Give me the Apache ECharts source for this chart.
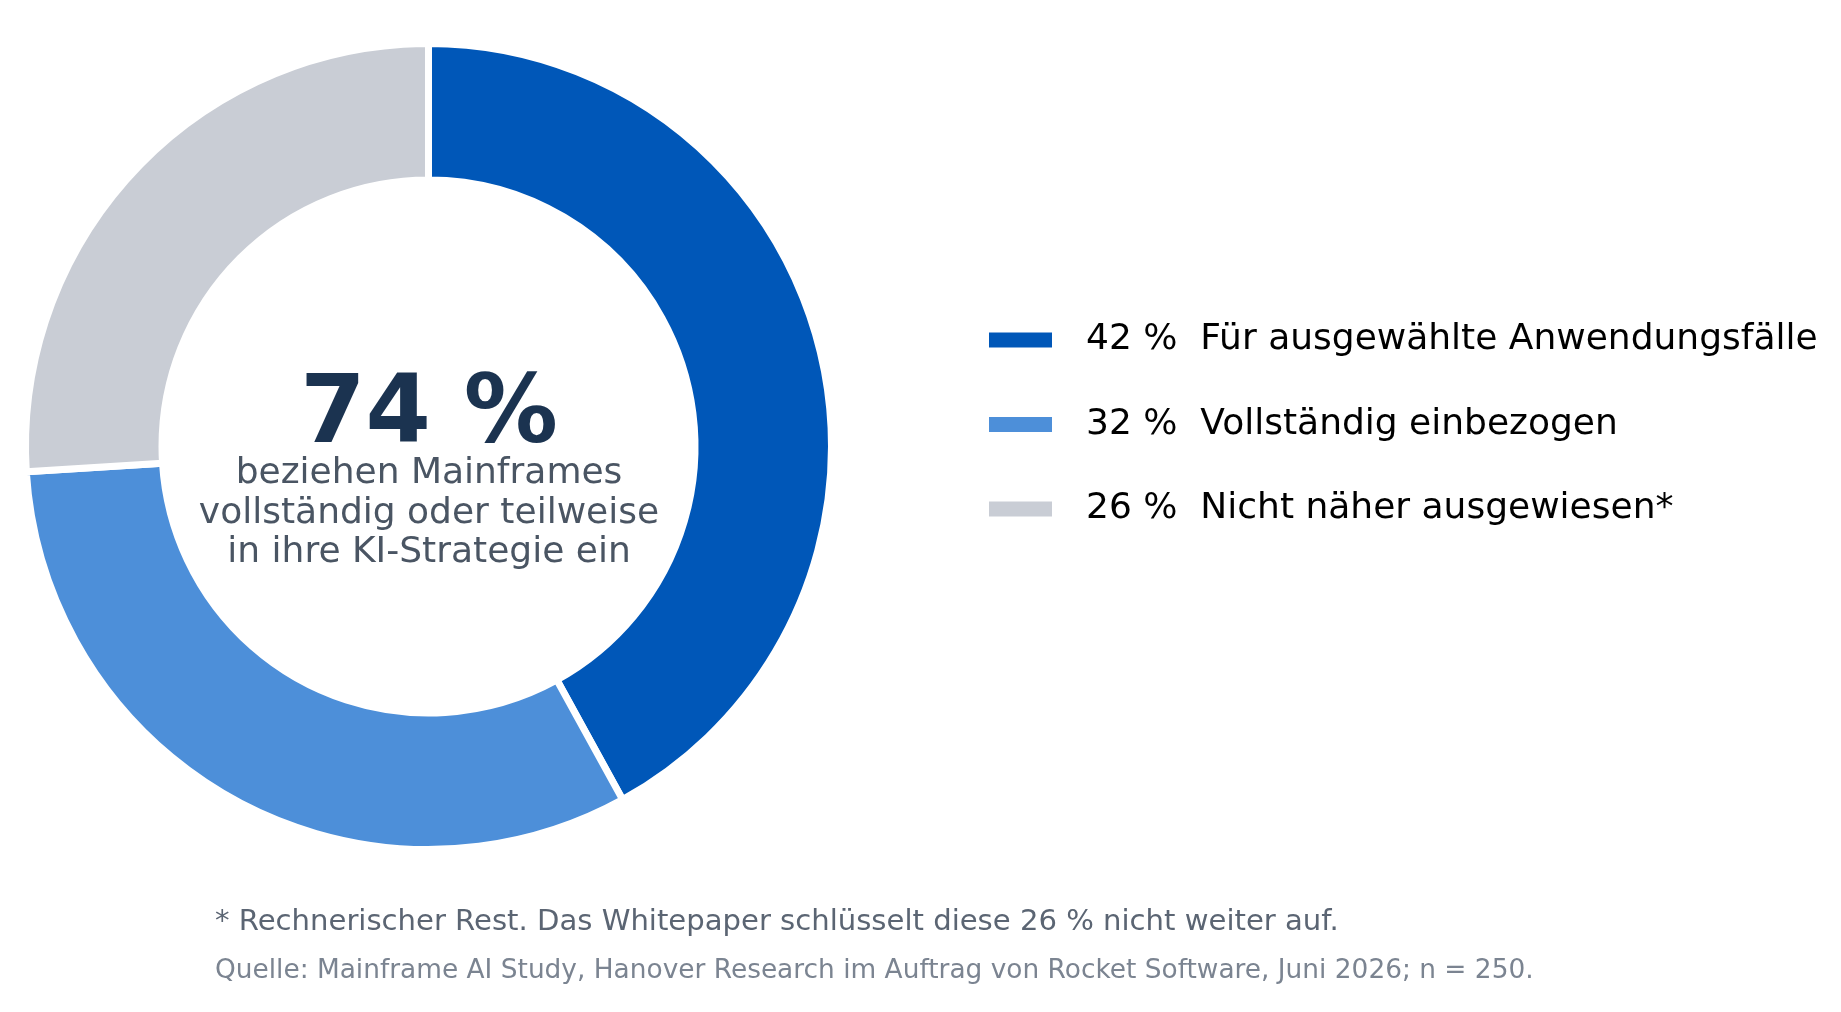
<!DOCTYPE html>
<html>
<head>
<meta charset="utf-8">
<script src="https://cdn.jsdelivr.net/npm/echarts@6/dist/echarts.min.js"></script>
<style>
html,body{margin:0;padding:0;background:#fff;}
#chart{width:1841px;height:1012px;}
</style>
</head>
<body>
<div id="chart"></div>
<script>
var categories = ['Für ausgewählte Anwendungsfälle', 'Vollständig einbezogen', 'Nicht näher ausgewiesen*'];
var values = [42, 32, 26];
var colors = ['#0057B8', '#4D8FD9', '#C9CDD5'];
var centerValue = '74 %';
var centerLines = ['beziehen Mainframes', 'vollständig oder teilweise', 'in ihre KI-Strategie ein'];
var footnote = '* Rechnerischer Rest. Das Whitepaper schlüsselt diese 26 % nicht weiter auf.';
var source = 'Quelle: Mainframe AI Study, Hanover Research im Auftrag von Rocket Software, Juni 2026; n = 250.';

var FONT = 'DejaVu Sans';
var chart = echarts.init(document.getElementById('chart'), null, {renderer: 'canvas'});

var data = categories.map(function (c, i) {
  return {name: c, value: values[i], itemStyle: {color: colors[i]}};
});

var graphics = [];
graphics.push({
  type: 'text', x: 429, y: 417.5, silent: true,
  style: {text: centerValue, font: 'bold 94px "' + FONT + '"', fill: '#1B3350', align: 'center', verticalAlign: 'middle'}
});
centerLines.forEach(function (t, i) {
  graphics.push({
    type: 'text', x: 429, y: 474 + i * 39.5, silent: true,
    style: {text: t, font: '36px "' + FONT + '"', fill: '#4A5563', align: 'center', verticalAlign: 'middle'}
  });
});
graphics.push({
  type: 'text', x: 215, y: 922.5, silent: true,
  style: {text: footnote, font: '29.1px "' + FONT + '"', fill: '#5B6573', align: 'left', verticalAlign: 'middle'}
});
graphics.push({
  type: 'text', x: 215, y: 971, silent: true,
  style: {text: source, font: '26.4px "' + FONT + '"', fill: '#7B8491', align: 'left', verticalAlign: 'middle'}
});

chart.setOption({
  animation: false,
  backgroundColor: '#ffffff',
  legend: {
    orient: 'vertical',
    left: 982,
    top: 315,
    itemWidth: 65,
    itemHeight: 17,
    itemGap: 44.5,
    icon: 'rect',
    selectedMode: false,
    data: categories,
    formatter: function (name) {
      var i = categories.indexOf(name);
      return values[i] + ' %  ' + name;
    },
    textStyle: {fontFamily: FONT, fontSize: 36, color: '#000000', lineHeight: 40, padding: [0, 0, 0, 28]}
  },
  graphic: graphics,
  series: [{
    type: 'pie',
    center: [428.5, 446.5],
    radius: [266.5, 403],
    startAngle: 90,
    clockwise: true,
    label: {show: false},
    labelLine: {show: false},
    emphasis: {disabled: true},
    itemStyle: {borderColor: '#ffffff', borderWidth: 7},
    data: data
  }]
});
</script>
</body>
</html>
